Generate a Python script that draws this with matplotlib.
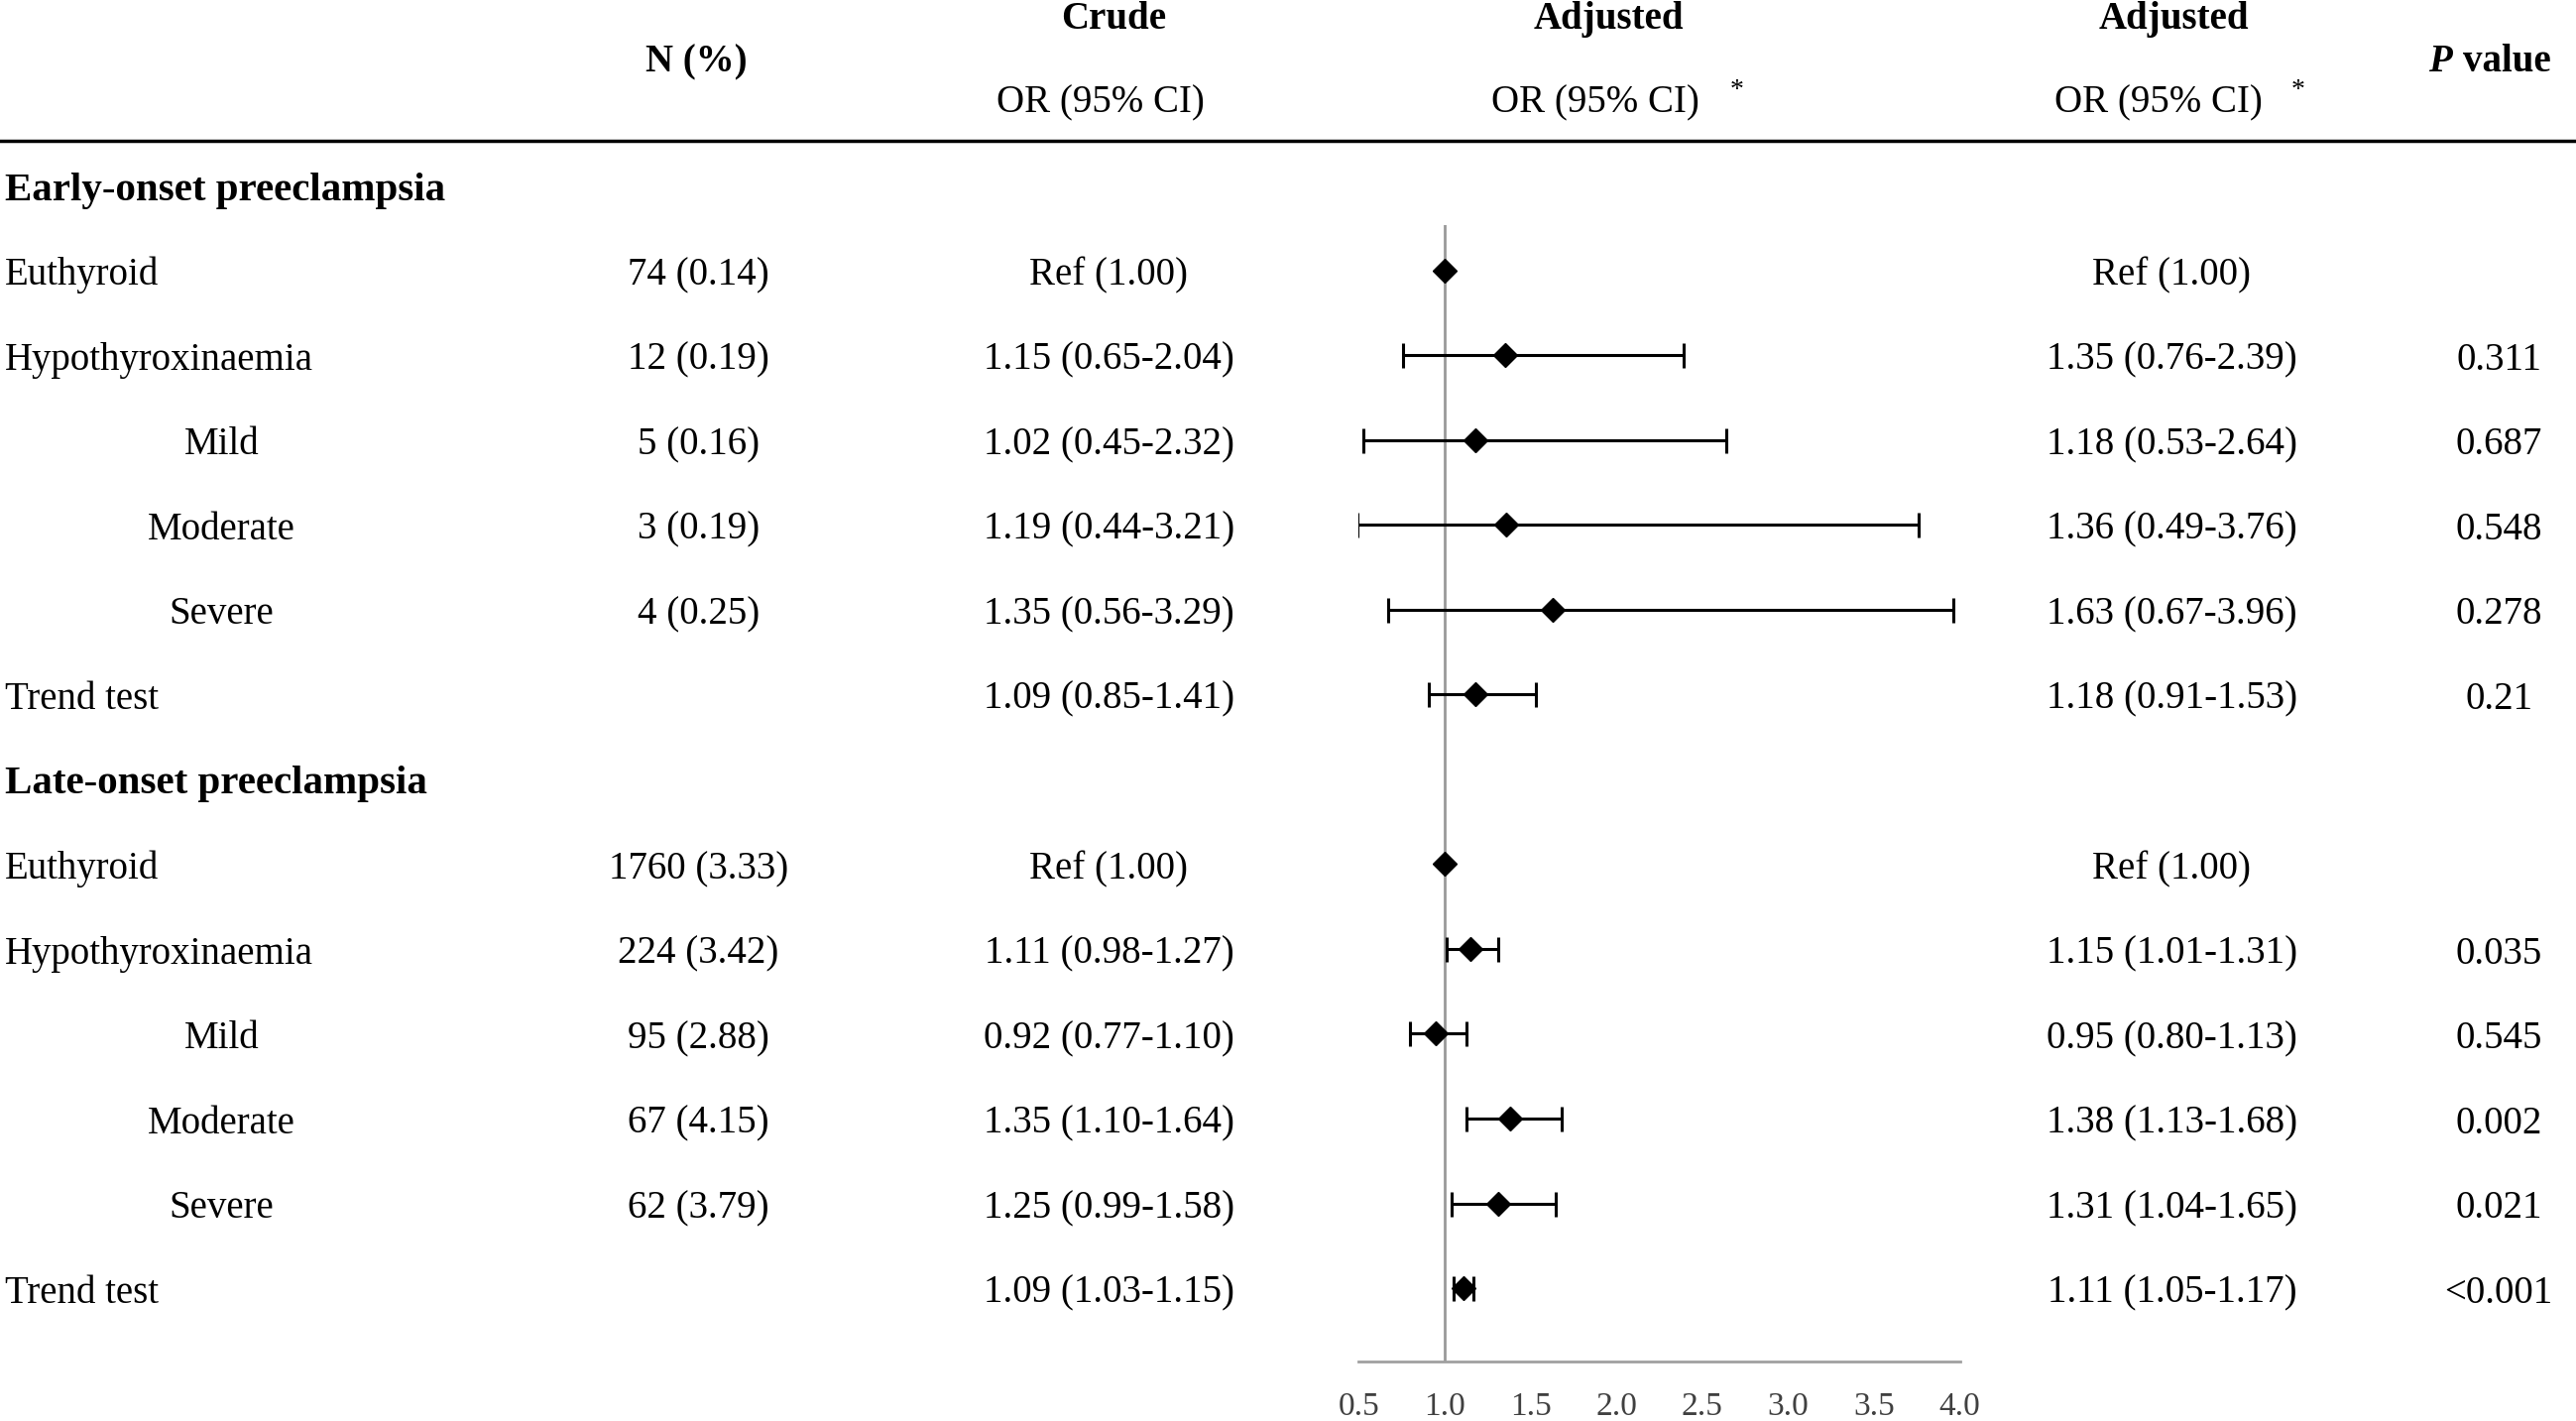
import matplotlib
matplotlib.use("Agg")
import matplotlib.pyplot as plt
import numpy as np
from matplotlib.lines import Line2D
from matplotlib.transforms import blended_transform_factory

plt.rcParams["font.family"] = ["Liberation Serif", "DejaVu Serif"]

# table rows (row 0 and 7 are the group headings)
labels = ["Early-onset preeclampsia", "Euthyroid", "Hypothyroxinaemia", "Mild", "Moderate",
          "Severe", "Trend test",
          "Late-onset preeclampsia", "Euthyroid", "Hypothyroxinaemia", "Mild", "Moderate",
          "Severe", "Trend test"]
is_group = [True, False, False, False, False, False, False,
            True, False, False, False, False, False, False]
is_sub = [False, False, False, True, True, True, False,
          False, False, False, True, True, True, False]
n_pct = ["", "74 (0.14)", "12 (0.19)", "5 (0.16)", "3 (0.19)", "4 (0.25)", "",
         "", "1760 (3.33)", "224 (3.42)", "95 (2.88)", "67 (4.15)", "62 (3.79)", ""]
crude = ["", "Ref (1.00)", "1.15 (0.65-2.04)", "1.02 (0.45-2.32)", "1.19 (0.44-3.21)",
         "1.35 (0.56-3.29)", "1.09 (0.85-1.41)",
         "", "Ref (1.00)", "1.11 (0.98-1.27)", "0.92 (0.77-1.10)", "1.35 (1.10-1.64)",
         "1.25 (0.99-1.58)", "1.09 (1.03-1.15)"]
p_values = ["", "", "0.311", "0.687", "0.548", "0.278", "0.21",
            "", "", "0.035", "0.545", "0.002", "0.021", "<0.001"]

# adjusted OR with 95% CI (nan = reference, no interval)
adj_or = [np.nan, 1.00, 1.35, 1.18, 1.36, 1.63, 1.18,
          np.nan, 1.00, 1.15, 0.95, 1.38, 1.31, 1.11]
adj_lo = [np.nan, np.nan, 0.76, 0.53, 0.49, 0.67, 0.91,
          np.nan, np.nan, 1.01, 0.80, 1.13, 1.04, 1.05]
adj_hi = [np.nan, np.nan, 2.39, 2.64, 3.76, 3.96, 1.53,
          np.nan, np.nan, 1.31, 1.13, 1.68, 1.65, 1.17]

ticks = [0.5, 1.0, 1.5, 2.0, 2.5, 3.0, 3.5, 4.0]

W, H = 1568.0, 866.0  # layout measured on a 1568x866 grid
fig = plt.figure(figsize=(25.98, 14.33), dpi=100)

row0_y, row_h = 113.0, 51.7
top_y, bot_y = 137.0, 830.0
x05, x40 = 827.0, 1193.0
ax = fig.add_axes([x05 / W, 1 - bot_y / H, (x40 - x05) / W, (bot_y - top_y) / H])
ax.set_xlim(0.5, 4.0)
ax.set_ylim((bot_y - row0_y) / row_h, (top_y - row0_y) / row_h)
for s in ["top", "left", "right"]:
    ax.spines[s].set_visible(False)
ax.spines["bottom"].set_color("#a0a0a0")
ax.spines["bottom"].set_linewidth(2.0)
ax.set_yticks([])
ax.set_xticks(ticks)
ax.set_xticklabels([f"{t:.1f}" for t in ticks], fontsize=24, color="#404040")
ax.tick_params(axis="x", length=0, pad=22)
ax.axvline(1.0, color="#999999", lw=2.0, zorder=1)

rows = np.arange(len(labels))
or_arr = np.array(adj_or)
lo_arr = np.array(adj_lo)
hi_arr = np.array(adj_hi)
has_ci = ~np.isnan(lo_arr)
ax.errorbar(or_arr[has_ci], rows[has_ci],
            xerr=[or_arr[has_ci] - lo_arr[has_ci], hi_arr[has_ci] - or_arr[has_ci]],
            fmt="none", ecolor="black", elinewidth=2.2, capsize=9, capthick=2.2, zorder=2)
pts = ~np.isnan(or_arr)
ax.plot(or_arr[pts], rows[pts], linestyle="none", marker="D", markersize=12,
        color="black", zorder=3)

tr = blended_transform_factory(fig.transFigure, ax.transData)
fs = 28
dy = 0.06  # text sits a touch below the marker centre
for i, lab in enumerate(labels):
    y = i + dy
    if is_group[i]:
        ax.text(3 / W, y, lab, transform=tr, fontsize=29.5, fontweight="bold",
                ha="left", va="center", clip_on=False)
        continue
    if is_sub[i]:
        ax.text(135 / W, y, lab, transform=tr, fontsize=fs, ha="center", va="center", clip_on=False)
    else:
        ax.text(3 / W, y, lab, transform=tr, fontsize=fs, ha="left", va="center", clip_on=False)
    ax.text(425 / W, y, n_pct[i], transform=tr, fontsize=fs, ha="center", va="center", clip_on=False)
    ax.text(675 / W, y, crude[i], transform=tr, fontsize=fs, ha="center", va="center", clip_on=False)
    if np.isnan(lo_arr[i]):
        adj_txt = "Ref (1.00)"
    else:
        adj_txt = f"{adj_or[i]:.2f} ({adj_lo[i]:.2f}-{adj_hi[i]:.2f})"
    ax.text(1322 / W, y, adj_txt, transform=tr, fontsize=fs, ha="center", va="center", clip_on=False)
    ax.text(1521 / W, y, p_values[i], transform=tr, fontsize=fs, ha="center", va="center", clip_on=False)

# header
def hy(y):
    return 1 - y / H

fig.text(424 / W, hy(38), "N (%)", fontsize=fs, fontweight="bold", ha="center", va="center")
fig.text(678 / W, hy(12), "Crude", fontsize=fs, fontweight="bold", ha="center", va="center")
fig.text(670 / W, hy(63), "OR (95% CI)", fontsize=fs, ha="center", va="center")
fig.text(979 / W, hy(12), "Adjusted", fontsize=fs, fontweight="bold", ha="center", va="center")
fig.text(971 / W, hy(63), "OR (95% CI)", fontsize=fs, ha="center", va="center")
fig.text(1057 / W, hy(55), "*", fontsize=20, ha="center", va="center")
fig.text(1323 / W, hy(12), "Adjusted", fontsize=fs, fontweight="bold", ha="center", va="center")
fig.text(1314 / W, hy(63), "OR (95% CI)", fontsize=fs, ha="center", va="center")
fig.text(1399 / W, hy(55), "*", fontsize=20, ha="center", va="center")
fig.text(1478 / W, hy(38), "P", fontsize=fs, fontweight="bold", fontstyle="italic",
         ha="left", va="center")
fig.text(1499 / W, hy(38), "value", fontsize=fs, fontweight="bold", ha="left", va="center")

fig.add_artist(Line2D([0, 1], [hy(86), hy(86)], transform=fig.transFigure,
                      color="black", lw=2.5))

fig.savefig("out.png", dpi=100)
